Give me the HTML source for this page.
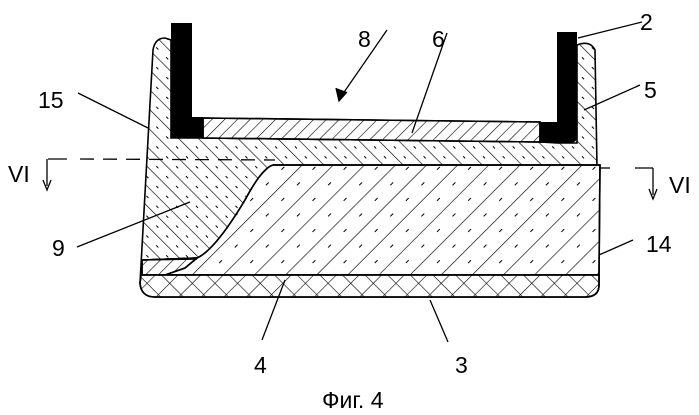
<!DOCTYPE html>
<html><head><meta charset="utf-8"><style>
html,body{margin:0;padding:0;background:#fff}
svg{display:block}
text{font-family:"Liberation Sans",sans-serif;fill:#000}
</style></head><body>
<svg width="699" height="415" viewBox="0 0 699 415" xmlns="http://www.w3.org/2000/svg">
<defs>
<pattern id="bk" width="14" height="14" patternUnits="userSpaceOnUse" patternTransform="rotate(-45)">
<line x1="0" y1="0" x2="0" y2="14" stroke="#000" stroke-width="1.3"/>
<line x1="7" y1="4" x2="7" y2="7" stroke="#000" stroke-width="1"/></pattern>
<pattern id="fw" width="22" height="22" patternUnits="userSpaceOnUse" patternTransform="rotate(45)">
<line x1="0" y1="0" x2="0" y2="22" stroke="#000" stroke-width="1.3"/>
<line x1="11" y1="5" x2="11" y2="9" stroke="#000" stroke-width="1"/></pattern>
<pattern id="f6" width="9" height="9" patternUnits="userSpaceOnUse" patternTransform="rotate(45)">
<line x1="0" y1="0" x2="0" y2="9" stroke="#000" stroke-width="1.2"/></pattern>
<pattern id="cx" width="16" height="16" patternUnits="userSpaceOnUse" patternTransform="rotate(45)">
<line x1="0" y1="0" x2="0" y2="16" stroke="#000" stroke-width="1.2"/>
<line x1="0" y1="0" x2="16" y2="0" stroke="#000" stroke-width="1.2"/></pattern>
</defs>
<g stroke="#000" stroke-width="1.6" fill="none">
<path d="M153,50 Q155,38 165,38 L171,40 L171,138 L203,138 L540,142 L557,143 L577,143 L577,45 Q590,40 595,50 L599,285 Q599,297 585,297 L155,297 Q141,297 140,283 Z" fill="url(#bk)"/>
<path d="M273,165 L600,165 L599,275 L145,275 L145,260 L197,258 Q215,250 245,200 Q262,168 273,165 Z" fill="#fff"/>
<path d="M273,165 L600,165 L599,275 L145,275 L145,260 L197,258 Q215,250 245,200 Q262,168 273,165 Z" fill="url(#fw)"/>
<path d="M142,260 L197,258 L185,268 L165,275 L142,275 Z" fill="#fff"/>
<path d="M142,260 L197,258 L185,268 L165,275 L142,275 Z" fill="url(#f6)"/>
<line x1="142" y1="275" x2="599" y2="275"/>
<line x1="142" y1="260" x2="197" y2="259"/>
<path d="M141,275 L599,275 L599,285 Q599,297 585,297 L155,297 Q141,297 140,283 Z" fill="#fff"/>
<path d="M141,275 L599,275 L599,285 Q599,297 585,297 L155,297 Q141,297 140,283 Z" fill="url(#cx)"/>
<path d="M203,118 L540,122 L540,142 L203,138 Z" fill="#fff"/>
<path d="M203,118 L540,122 L540,142 L203,138 Z" fill="url(#f6)"/>
<line x1="273" y1="165" x2="600" y2="165"/>
</g>
<path d="M171,23 L192,23 L192,117 L203,117 L203,138 L171,138 Z" fill="#000"/>
<path d="M557,32 L577,32 L577,136 Q577,143 570,143 L540,143 L540,122 L557,122 Z" fill="#000"/>
<g stroke="#000" stroke-width="1.3" fill="none">
<line x1="48" y1="159" x2="67" y2="159"/>
<line x1="47" y1="159" x2="47" y2="186"/>
<path d="M43,180 L47,190 L51,180" />
<line x1="80" y1="159" x2="275" y2="160" stroke-dasharray="14,9"/>
<line x1="600" y1="168" x2="610" y2="168"/>
<line x1="635" y1="168" x2="653" y2="168"/>
<line x1="653" y1="168" x2="653" y2="195"/>
<path d="M649,189 L653,199 L657,189"/>
<line x1="78" y1="93" x2="148" y2="128"/>
<line x1="77" y1="247" x2="190" y2="202"/>
<line x1="387" y1="30" x2="340" y2="98"/>
<path d="M336,88 L339,101 L347,92" fill="#000"/>
<line x1="447" y1="33" x2="412" y2="133"/>
<line x1="578" y1="38" x2="642" y2="22"/>
<line x1="584" y1="110" x2="640" y2="85"/>
<line x1="599" y1="255" x2="633" y2="240"/>
<line x1="285" y1="280" x2="262" y2="340"/>
<line x1="430" y1="300" x2="448" y2="342"/>
</g>
<g font-size="23">
<text x="358" y="47">8</text>
<text x="432" y="47">6</text>
<text x="640" y="30">2</text>
<text x="644" y="98">5</text>
<text x="38" y="108">15</text>
<text x="8" y="182">VI</text>
<text x="669" y="193">VI</text>
<text x="52" y="256">9</text>
<text x="646" y="252">14</text>
<text x="254" y="373">4</text>
<text x="455" y="373">3</text>
<text x="322" y="408">Фиг. 4</text>
</g>
</svg>
</body></html>
